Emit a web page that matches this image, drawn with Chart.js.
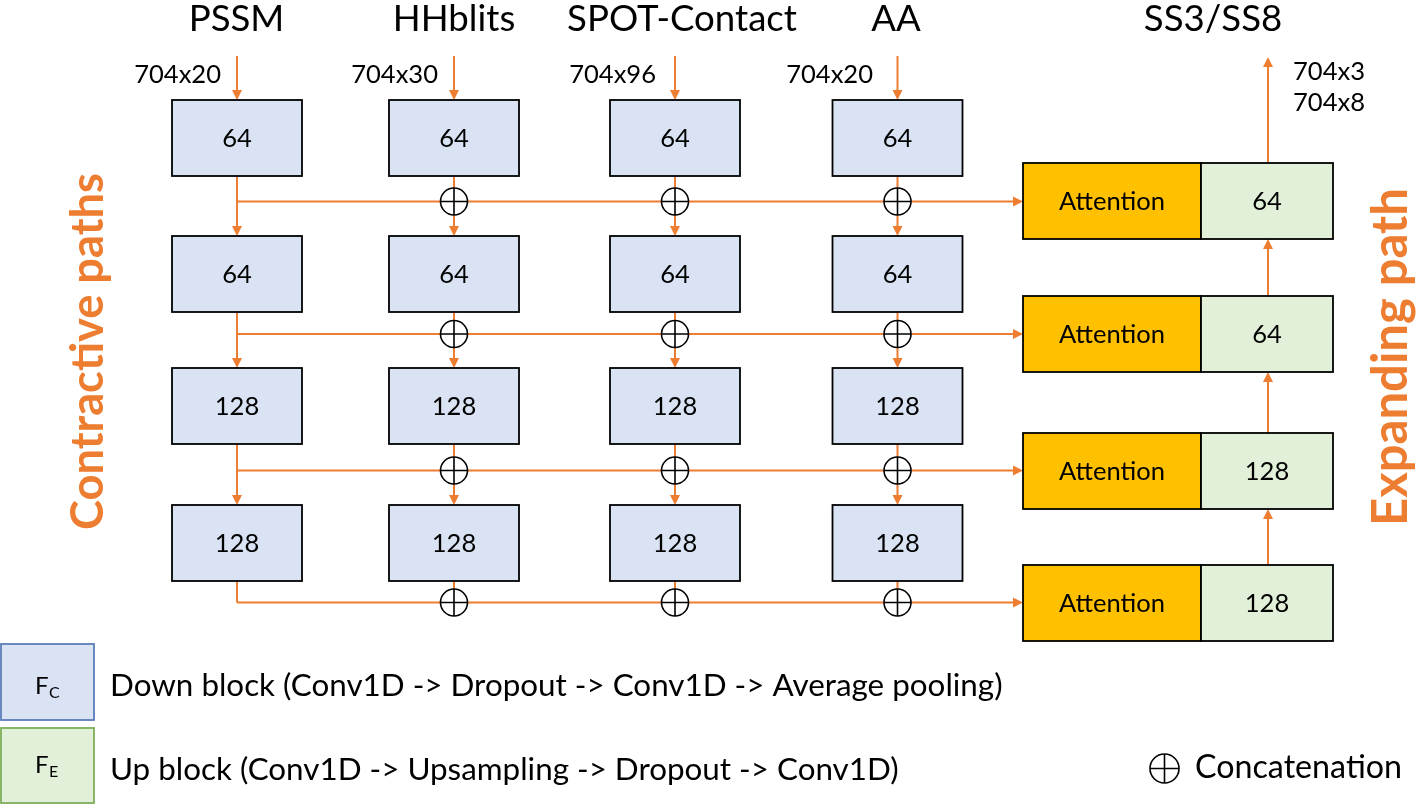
<!DOCTYPE html>
<html><head><meta charset="utf-8">
<script src="https://cdn.jsdelivr.net/npm/chart.js@4.4.1/dist/chart.umd.min.js"></script>
<style>html,body{margin:0;padding:0;background:#fff;overflow:hidden}canvas{display:block}</style>
</head><body>
<div style="width:1422px;height:804px;position:relative"><canvas id="c" width="1422" height="804"></canvas></div>
<script>
// ---------------- data ----------------
const inputNames   = ['PSSM', 'HHblits', 'SPOT-Contact', 'AA'];
const inputShapes  = ['704x20', '704x30', '704x96', '704x20'];
const downFilters  = [64, 64, 128, 128];
const upFilters    = [64, 64, 128, 128];
const attentionLabel = 'Attention';
const outputName   = 'SS3/SS8';
const outputShapes = ['704x3', '704x8'];
const sideLabels   = ['Contractive paths', 'Expanding path'];
const legendSymbols = [['F', 'C'], ['F', 'E']];
const legendTexts  = ['Down block (Conv1D -> Dropout -> Conv1D -> Average pooling)',
                      'Up block (Conv1D -> Upsampling -> Dropout -> Conv1D)'];
const concatLabel  = 'Concatenation';

// ---------------- layout (diagram units = 1422 x 804) ----------------
const L = {
  colX: [237, 454, 675, 897.5],
  headerX: [236.5, 454, 682, 896], headerBase: 31,
  shapeRight: [221, 438, 656, 873], shapeBase: 83,
  boxW: 130, boxH: 76,
  rowTop: [100, 236, 368, 505],
  connY: [201.5, 334, 470.5, 602.5],
  inTop: 56,
  attX0: 1023, attX1: 1201, upX1: 1333, upTop: [163, 296, 433, 565], upH: 76,
  outX: 1268, outTop: 57, outHeaderX: 1213,
  outShapeX: 1293, outShapeBase: [80, 111],
  sideX: [103, 1407], sideY: [351.5, 357], sideW: [357, 338],
  legBoxX: [0, 94], legBoxY: [[644, 720], [728, 803]],
  legSymX: 35, legSymBase: [694, 773], legTextX: 110, legTextBase: [696, 780], legTextW: 893,
  concatX: 1164.5, concatY: 768.5, concatR: 14.5, concatTextX: 1195, concatTextBase: 778, concatTextW: 207,
  circleR: 13.5,
  headW: 230, smallW: 106
};
const ORANGE = '#ED7D31';
const FONT = 'Lato, "Open Sans", sans-serif';
const C_BLUE = '#DAE3F3', C_GREEN = '#E2F0D9', C_ATT = '#FFC000';

function fit(ctx, text, weight, w) {
  ctx.font = weight + ' 100px ' + FONT;
  return 100 * w / ctx.measureText(text).width;
}

// concat symbol positions (derived from grid)
const concatPts = [];
downFilters.forEach((f, r) => {
  for (let c = 1; c < inputNames.length; c++) concatPts.push({x: L.colX[c], y: L.connY[r], r: L.circleR});
});
concatPts.push({x: L.concatX, y: L.concatY, r: L.concatR});

const diagram = {
  id: 'diagram',
  beforeDatasetsDraw(chart) {
    const ctx = chart.ctx, sx = chart.scales.x, sy = chart.scales.y;
    const X = v => sx.getPixelForValue(v), Y = v => sy.getPixelForValue(v);
    ctx.save();
    ctx.lineCap = 'butt';

    function line(x0, y0, x1, y1) {
      ctx.strokeStyle = ORANGE; ctx.lineWidth = 2;
      ctx.beginPath(); ctx.moveTo(X(x0), Y(y0)); ctx.lineTo(X(x1), Y(y1)); ctx.stroke();
    }
    function arrow(x0, y0, x1, y1) {
      const px0 = X(x0), py0 = Y(y0), px1 = X(x1), py1 = Y(y1);
      const a = Math.atan2(py1 - py0, px1 - px0), len = 10, hw = 5;
      ctx.strokeStyle = ORANGE; ctx.lineWidth = 2;
      ctx.beginPath(); ctx.moveTo(px0, py0);
      ctx.lineTo(px1 - Math.cos(a) * (len - 1), py1 - Math.sin(a) * (len - 1)); ctx.stroke();
      ctx.fillStyle = ORANGE; ctx.beginPath();
      ctx.moveTo(px1, py1);
      ctx.lineTo(px1 - Math.cos(a) * len - Math.sin(a) * hw, py1 - Math.sin(a) * len + Math.cos(a) * hw);
      ctx.lineTo(px1 - Math.cos(a) * len + Math.sin(a) * hw, py1 - Math.sin(a) * len - Math.cos(a) * hw);
      ctx.closePath(); ctx.fill();
    }
    function box(x0, y0, x1, y1, fill, stroke, lw) {
      ctx.fillStyle = fill; ctx.strokeStyle = stroke; ctx.lineWidth = lw;
      ctx.fillRect(X(x0), Y(y0), X(x1) - X(x0), Y(y1) - Y(y0));
      ctx.strokeRect(X(x0), Y(y0), X(x1) - X(x0), Y(y1) - Y(y0));
    }
    function text(t, x, y, size, align, weight, color) {
      ctx.font = (weight || 'normal') + ' ' + size + 'px ' + FONT;
      ctx.fillStyle = color || '#000'; ctx.textAlign = align || 'center';
      ctx.textBaseline = 'alphabetic';
      ctx.fillText(t, X(x), Y(y));
    }

    const headSize = fit(ctx, 'SPOT-Contact', 'normal', L.headW);
    const smallSize = fit(ctx, attentionLabel, 'normal', L.smallW);
    const legSize = fit(ctx, legendTexts[0], 'normal', L.legTextW);
    const catSize = fit(ctx, concatLabel, 'normal', L.concatTextW);

    // ---- connectors ----
    const nRows = downFilters.length, nCols = inputNames.length;
    inputNames.forEach((n, c) => arrow(L.colX[c], L.inTop, L.colX[c], L.rowTop[0]));
    for (let r = 0; r < nRows; r++) {
      for (let c = 0; c < nCols; c++) {
        const yb = L.rowTop[r] + L.boxH;
        if (r < nRows - 1) arrow(L.colX[c], yb, L.colX[c], L.rowTop[r + 1]);
        else line(L.colX[c], yb, L.colX[c], L.connY[r]);
      }
      arrow(L.colX[0], L.connY[r], L.attX0, L.connY[r]);
    }
    for (let r = upFilters.length - 1; r > 0; r--) arrow(L.outX, L.upTop[r], L.outX, L.upTop[r - 1] + L.upH);
    arrow(L.outX, L.upTop[0], L.outX, L.outTop);

    // ---- down blocks ----
    for (let r = 0; r < nRows; r++) {
      for (let c = 0; c < nCols; c++) {
        const x0 = L.colX[c] - L.boxW / 2;
        box(x0, L.rowTop[r], x0 + L.boxW, L.rowTop[r] + L.boxH, C_BLUE, '#000', 1.8);
        text(String(downFilters[r]), L.colX[c], L.rowTop[r] + L.boxH / 2 + smallSize * 0.36, smallSize);
      }
    }
    // ---- attention + up blocks ----
    upFilters.forEach((f, r) => {
      const t = L.upTop[r], b = t + L.upH, mid = t + L.upH / 2 + smallSize * 0.36;
      box(L.attX0, t, L.attX1, b, C_ATT, '#000', 1.8);
      box(L.attX1, t, L.upX1, b, C_GREEN, '#000', 1.8);
      text(attentionLabel, (L.attX0 + L.attX1) / 2, mid, smallSize);
      text(String(f), (L.attX1 + L.upX1) / 2, mid, smallSize);
    });

    // ---- headers ----
    inputNames.forEach((n, c) => {
      text(n, L.headerX[c], L.headerBase, headSize);
      text(inputShapes[c], L.shapeRight[c], L.shapeBase, smallSize, 'right');
    });
    text(outputName, L.outHeaderX, L.headerBase, headSize);
    outputShapes.forEach((s, i) => text(s, L.outShapeX, L.outShapeBase[i], smallSize, 'left'));

    // ---- side labels ----
    sideLabels.forEach((s, i) => {
      const sz = fit(ctx, s, 'bold', L.sideW[i]);
      ctx.save();
      ctx.translate(X(L.sideX[i]), Y(L.sideY[i]));
      ctx.rotate(-Math.PI / 2);
      ctx.font = 'bold ' + sz + 'px ' + FONT;
      ctx.fillStyle = ORANGE; ctx.textAlign = 'center'; ctx.textBaseline = 'alphabetic';
      ctx.fillText(s, 0, 0);
      ctx.restore();
    });

    // ---- legend ----
    const legStyles = [[C_BLUE, '#5B7DB8'], [C_GREEN, '#7DAF5A']];
    legendSymbols.forEach((sym, i) => {
      box(L.legBoxX[0] + 1, L.legBoxY[i][0], L.legBoxX[1], L.legBoxY[i][1], legStyles[i][0], legStyles[i][1], 1.8);
      text(sym[0], L.legSymX, L.legSymBase[i], 24, 'left');
      ctx.font = '24px ' + FONT;
      const fw = ctx.measureText(sym[0]).width;
      text(sym[1], L.legSymX + fw + 0.5, L.legSymBase[i] + 4, 16, 'left');
      text(legendTexts[i], L.legTextX, L.legTextBase[i], legSize, 'left');
    });
    text(concatLabel, L.concatTextX, L.concatTextBase, catSize, 'left');
    ctx.restore();
  }
};

new Chart(document.getElementById('c').getContext('2d'), {
  type: 'scatter',
  data: {
    datasets: [
      { data: concatPts, pointStyle: 'cross', pointRadius: c => c.raw ? c.raw.r : 13,
        borderColor: '#000', borderWidth: 1.6, clip: false },
      { data: concatPts, pointStyle: 'circle', pointRadius: c => c.raw ? c.raw.r : 13,
        backgroundColor: '#fff', borderColor: '#000', borderWidth: 1.6, clip: false }
    ]
  },
  options: {
    responsive: false, animation: false, events: [],
    layout: { padding: 0, autoPadding: false },
    plugins: { legend: { display: false }, tooltip: { enabled: false } },
    scales: {
      x: { type: 'linear', min: 0, max: 1422, display: false },
      y: { type: 'linear', min: 0, max: 804, reverse: true, display: false }
    }
  },
  plugins: [diagram]
});
</script>
</body></html>
